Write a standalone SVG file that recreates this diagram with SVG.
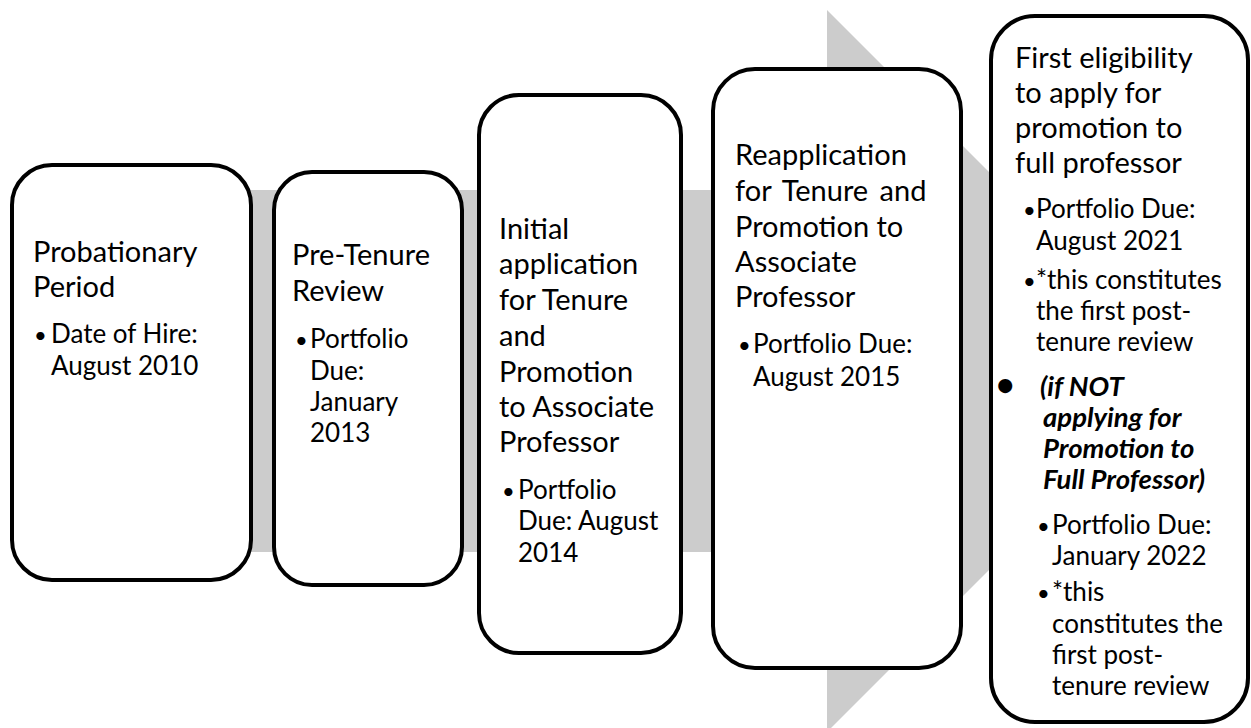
<svg xmlns="http://www.w3.org/2000/svg" width="1251" height="728" viewBox="0 0 1251 728">
<style>
.box{fill:#fff;stroke:#000;stroke-width:4}
text{font-family:Lato,"Liberation Sans",sans-serif;fill:#000}
.t{font-size:29px}
.b{font-size:26px}
.d{font-size:22px}
.bi{font-size:27.5px;font-weight:bold;font-style:italic}
.arrow{fill:#cccccc}
</style>
<g id="connectors">
<polygon class="arrow" points="20,190 827,190 827,10 1188,371 827,732 827,552 20,552"/>
</g>
<g id="node1">
<rect class="box" x="12" y="165" width="239" height="415" rx="40"/>
<text class="t" x="33" y="262">Probationary</text>
<text class="t" x="33" y="297">Period</text>
<text class="d" x="34" y="343">•</text>
<text class="b" x="51" y="343">Date of Hire:</text>
<text class="b" x="51" y="375">August 2010</text>
</g>
<g id="node2">
<rect class="box" x="274" y="172" width="188" height="413" rx="38"/>
<text class="t" x="292" y="265">Pre-Tenure</text>
<text class="t" x="292" y="301">Review</text>
<text class="d" x="295" y="348">•</text>
<text class="b" x="310" y="348">Portfolio</text>
<text class="b" x="310" y="380">Due:</text>
<text class="b" x="310" y="411">January</text>
<text class="b" x="310" y="442">2013</text>
</g>
<g id="node3">
<rect class="box" x="479" y="95" width="202" height="558" rx="40"/>
<text class="t" x="499" y="239">Initial</text>
<text class="t" x="499" y="274">application</text>
<text class="t" x="499" y="310">for Tenure</text>
<text class="t" x="499" y="346">and</text>
<text class="t" x="499" y="382">Promotion</text>
<text class="t" x="499" y="417">to Associate</text>
<text class="t" x="499" y="452">Professor</text>
<text class="d" x="502" y="499">•</text>
<text class="b" x="518" y="499">Portfolio</text>
<text class="b" x="518" y="530">Due: August</text>
<text class="b" x="518" y="562">2014</text>
</g>
<g id="node4">
<rect class="box" x="713" y="69" width="248" height="599" rx="42"/>
<text class="t" x="735" y="165">Reapplication</text>
<text class="t" x="735" y="201" style="word-spacing:4px">for Tenure and</text>
<text class="t" x="735" y="237">Promotion to</text>
<text class="t" x="735" y="272">Associate</text>
<text class="t" x="735" y="307">Professor</text>
<text class="d" x="738" y="353">•</text>
<text class="b" x="753" y="353">Portfolio Due:</text>
<text class="b" x="753" y="386">August 2015</text>
</g>
<g id="node5">
<rect class="box" x="991" y="16" width="257" height="706" rx="44"/>
<text class="t" x="1015" y="68">First eligibility</text>
<text class="t" x="1015" y="103">to apply for</text>
<text class="t" x="1015" y="138">promotion to</text>
<text class="t" x="1015" y="173">full professor</text>
<text class="d" x="1023" y="218">•</text>
<text class="b" x="1036" y="218">Portfolio Due:</text>
<text class="b" x="1036" y="250">August 2021</text>
<text class="d" x="1023" y="289">•</text>
<text class="b" x="1036" y="289">*this constitutes</text>
<text class="b" x="1036" y="320">the first post-</text>
<text class="b" x="1036" y="351">tenure review</text>
<text class="bi" x="996" y="396" style="font-size:32px">•</text>
<text class="bi" x="1040" y="396">(if NOT</text>
<text class="bi" x="1043" y="427">applying for</text>
<text class="bi" x="1043" y="458">Promotion to</text>
<text class="bi" x="1043" y="489">Full Professor)</text>
<text class="d" x="1037" y="534">•</text>
<text class="b" x="1052" y="534">Portfolio Due:</text>
<text class="b" x="1052" y="565">January 2022</text>
<text class="d" x="1037" y="601">•</text>
<text class="b" x="1052" y="601">*this</text>
<text class="b" x="1052" y="633">constitutes the</text>
<text class="b" x="1052" y="664">first post-</text>
<text class="b" x="1052" y="695">tenure review</text>
</g>
</svg>
